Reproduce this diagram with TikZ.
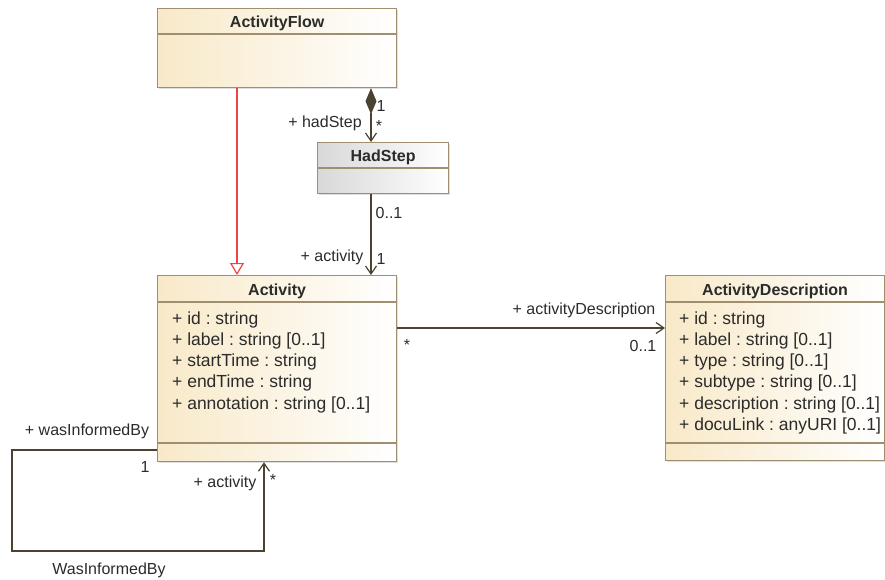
\documentclass[tikz,border=0pt]{standalone}
\usepackage{fontspec}
\setmainfont{Liberation Sans}
\usetikzlibrary{arrows.meta,shadows,positioning}
\frenchspacing

\definecolor{umlborder}{HTML}{A08F6E}
\definecolor{umlcream}{HTML}{F8E9C8}
\definecolor{umlgray}{HTML}{D8D8D8}
\definecolor{umlline}{HTML}{4B4232}
\definecolor{umltext}{HTML}{2B2B2B}
\definecolor{umlred}{HTML}{F04444}

\newcommand\umllabel{\fontsize{16}{19}\selectfont}
\newcommand\umlattr{\fontsize{17.5}{21}\selectfont}
\newcommand\umlhead{\fontsize{16}{19}\selectfont\bfseries}

\tikzset{
	classbox/.style={draw=umlborder, line width=1.2pt, anchor=north west,
		inner sep=0pt, left color=umlcream, right color=white,
		drop shadow={shadow xshift=1.5pt, shadow yshift=-1.5pt, opacity=0.25}},
	stepfill/.style={left color=umlgray, right color=white},
	compline/.style={draw=umlborder, line width=1.2pt},
	classname/.style={anchor=base, inner sep=0pt, font=\umlhead},
	attrtext/.style={anchor=base west, inner sep=0pt, font=\umlattr},
	rolelabel/.style={anchor=base, inner sep=0pt, font=\umllabel},
	assoc/.style={draw=umlline, line width=1.2pt,
		-{Straight Barb[length=8pt, width=11pt]}},
	compose/.style={draw=umlline, line width=1.2pt,
		{Diamond[length=26pt, width=11pt, fill=umlline]}-{Straight Barb[length=8pt, width=11pt]}},
	generalize/.style={draw=umlred, line width=1.2pt,
		-{Triangle[open, length=12pt, width=14pt, fill=white]}},
}

\begin{document}
\begin{tikzpicture}[x=1pt, y=-1pt, text=umltext]
	\useasboundingbox (0,0) rectangle (885,579);
	% classes
	\node[classbox, minimum width=239pt, minimum height=79pt] (flow) at (157,8) {};
	\node[classbox, stepfill, minimum width=131pt, minimum height=51pt] (hadstep) at (317,142) {};
	\node[classbox, minimum width=239pt, minimum height=186pt] (act) at (157,275) {};
	\node[classbox, minimum width=219pt, minimum height=185pt] (desc) at (665,275) {};
	\foreach \cls/\hd in {flow/26, hadstep/26, act/27, desc/27}
		\draw[compline] ([yshift=-\hd]\cls.north west) -- ([yshift=-\hd]\cls.north east);
	\foreach \cls in {act, desc}
		\draw[compline] ([yshift=-168]\cls.north west) -- ([yshift=-168]\cls.north east);
	\node[classname] (flowname) at ([yshift=-19]flow.north) {ActivityFlow};
	\node[classname] (hadstepname) at ([yshift=-19]hadstep.north) {HadStep};
	\node[classname] (actname) at ([yshift=-20]act.north) {Activity};
	\node[classname] (descname) at ([yshift=-20]desc.north) {ActivityDescription};
	\foreach \attr [count=\i] in {{+ id : string}, {+ label : string [0..1]},
		{+ startTime : string}, {+ endTime : string}, {+ annotation : string [0..1]}}
		\node[attrtext] (actattr\i) at ([xshift=15, yshift={-49-21.25*(\i-1)}]act.north west) {\attr};
	\foreach \attr [count=\i] in {{+ id : string}, {+ label : string [0..1]},
		{+ type : string [0..1]}, {+ subtype : string [0..1]},
		{+ description : string [0..1]}, {+ docuLink : anyURI [0..1]}}
		\node[attrtext] (descattr\i) at ([xshift=14, yshift={-49-21.25*(\i-1)}]desc.north west) {\attr};
	% connectors
	\draw[generalize] ([xshift=80]flow.south west) -- ([xshift=80]act.north west);
	\draw[compose] ([xshift=214]flow.south west) -- ([xshift=54]hadstep.north west);
	\draw[assoc] ([xshift=54]hadstep.south west) -- ([xshift=214]act.north west);
	\draw[assoc] ([yshift=-53]act.north east) -- ([yshift=-53]desc.north west);
	\coordinate (loopL) at (12,450);
	\coordinate (loopB) at (264,551);
	\draw[assoc] ([yshift=-175]act.north west) -- (loopL) |- (loopB) -- ([xshift=107]act.south west);
	% role labels
	\node[rolelabel] (flowmult) at (381,111) {1};
	\node[rolelabel] (stepmult) at (379,131) {*};
	\node[rolelabel] (steprole) at (325,127) {+ hadStep};
	\node[rolelabel] (stepactmult) at (389,218) {0..1};
	\node[rolelabel] (steprolea) at (332,261) {+ activity};
	\node[rolelabel] (actmult) at (381,264) {1};
	\node[rolelabel] (descrole) at (584,314) {+ activityDescription};
	\node[rolelabel] (descmulta) at (407,350) {*};
	\node[rolelabel] (descmultb) at (643,351) {0..1};
	\node[rolelabel] (informrole) at (87,435) {+ wasInformedBy};
	\node[rolelabel] (informmult) at (145,472) {1};
	\node[rolelabel] (informact) at (225,487) {+ activity};
	\node[rolelabel] (informstar) at (273,485) {*};
	\node[rolelabel] (informname) at (109,574) {WasInformedBy};
\end{tikzpicture}
\end{document}
